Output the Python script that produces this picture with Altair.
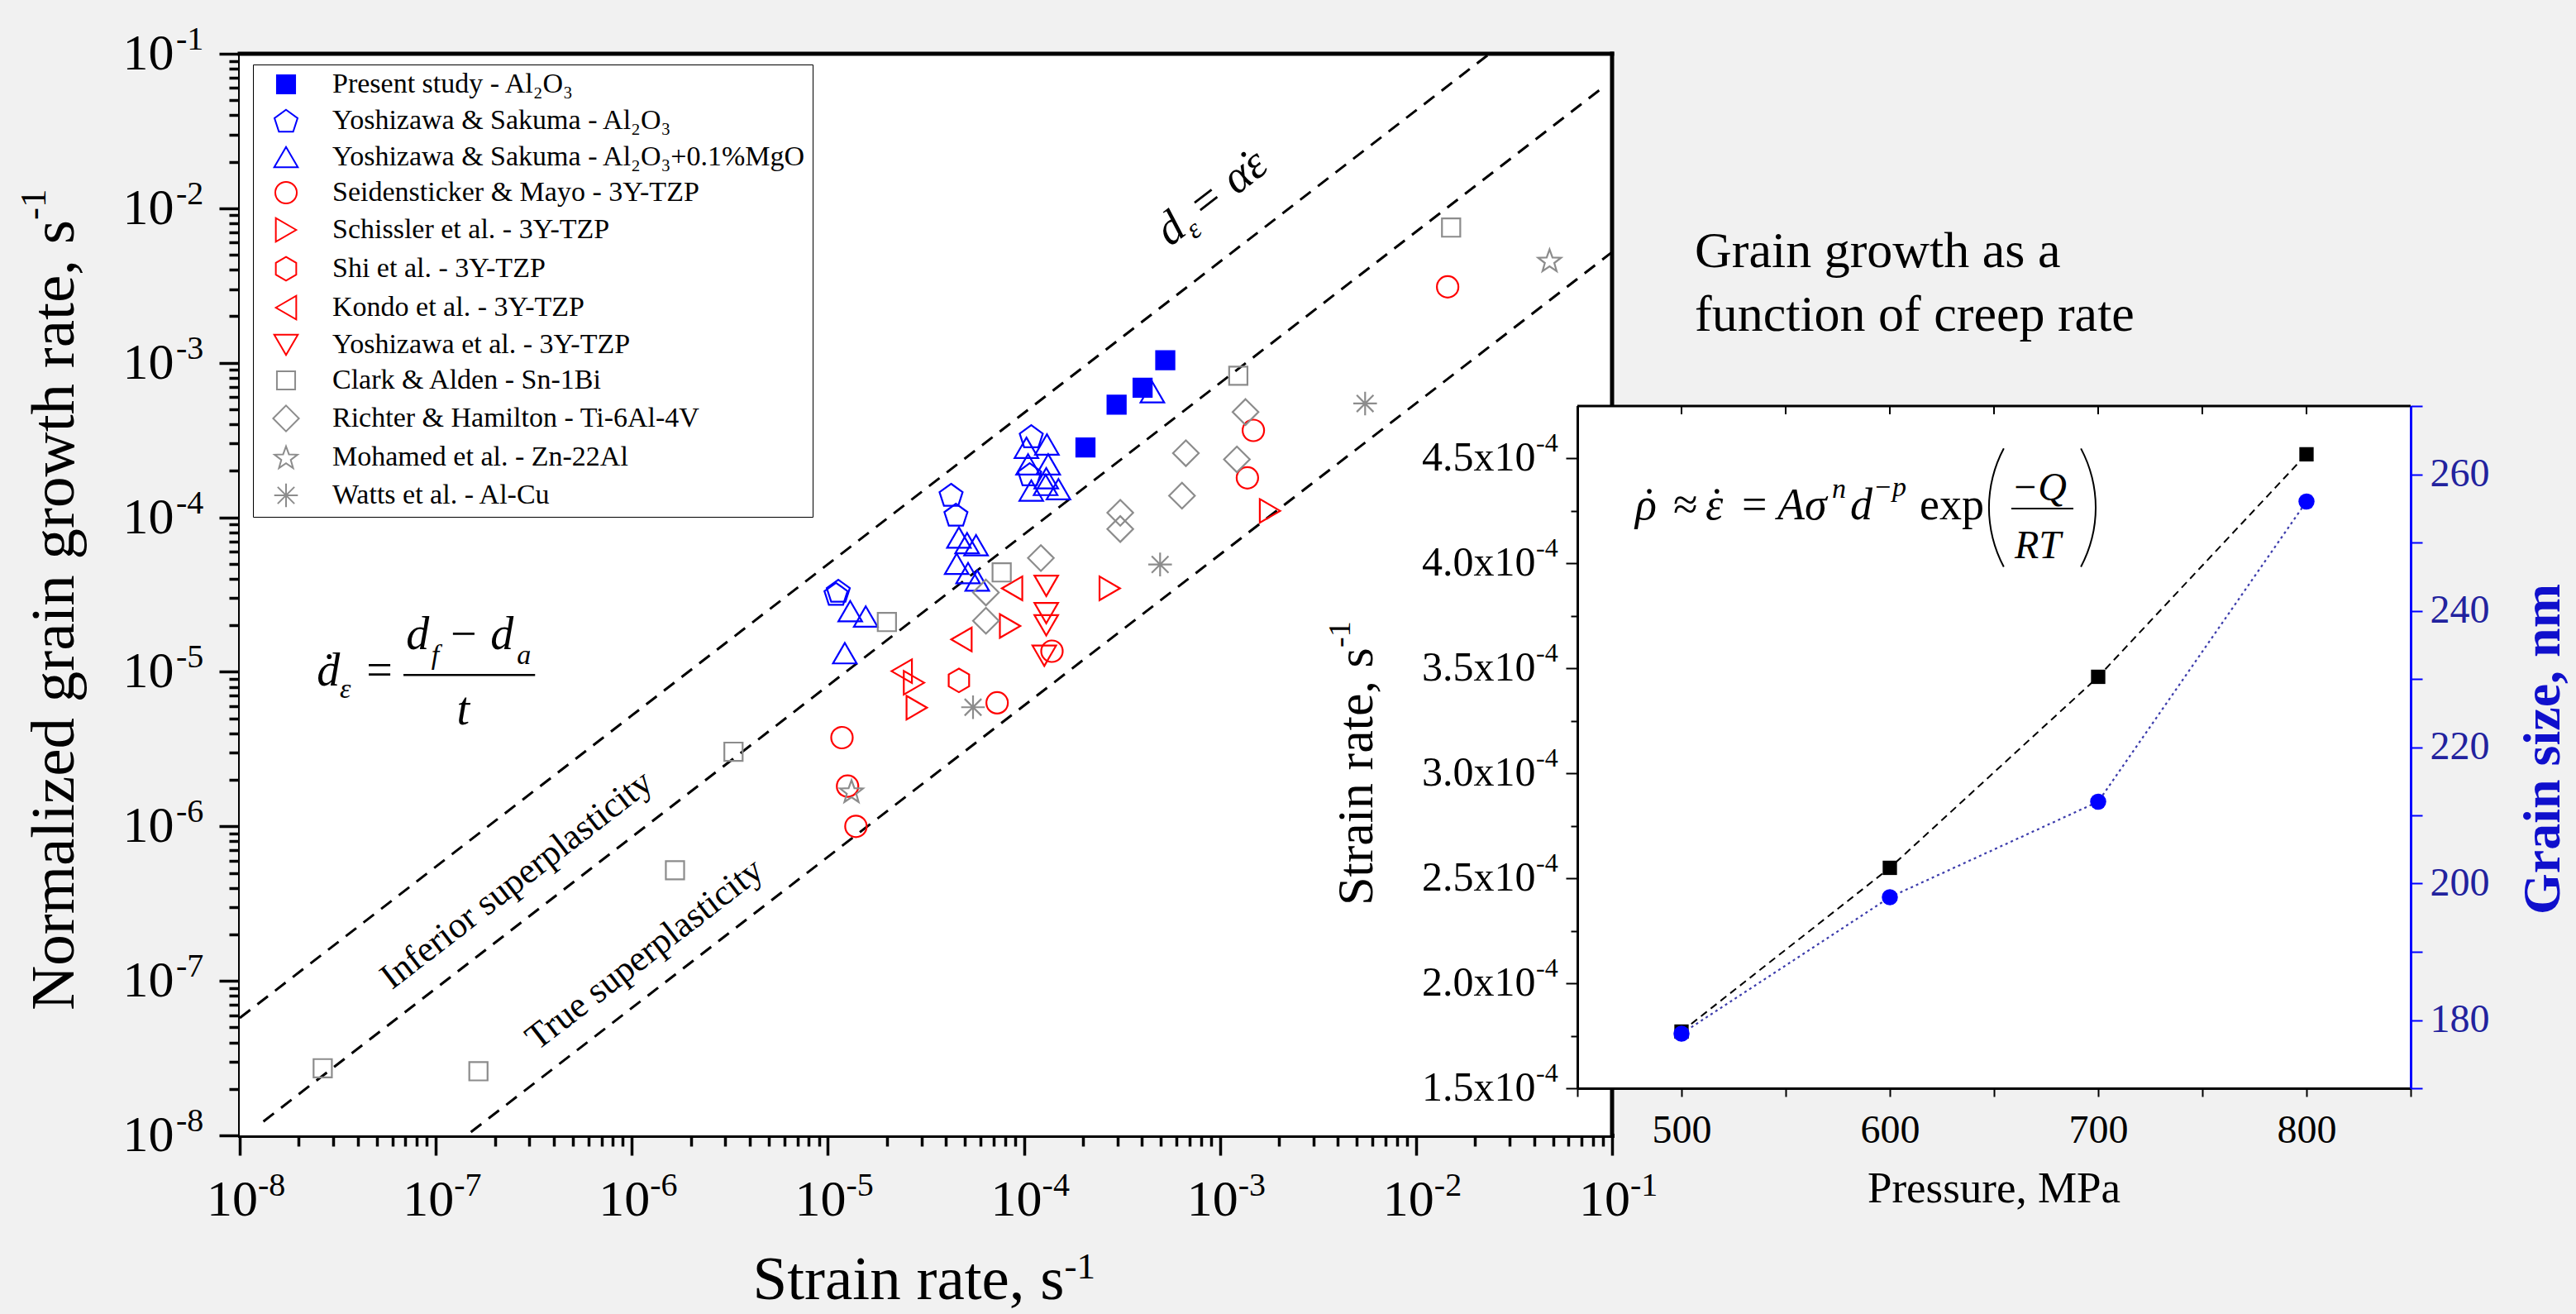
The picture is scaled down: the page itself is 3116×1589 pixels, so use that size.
import math
import altair as alt
import pandas as pd

FONT = "Liberation Serif"
BG = "#f1f1f1"
BLUE = "#0000ff"
RED = "#ff0000"
GRAY = "#8c8c8c"
NAVY = "#22229e"
DOT_BLUE = "#3b3bab"

# ---------------------------------------------------------------------------
# Grain growth rate vs. strain rate (literature compilation)
# ---------------------------------------------------------------------------
series_names = [
    "Present study - Al\u2082O\u2083",
    "Yoshizawa & Sakuma - Al\u2082O\u2083",
    "Yoshizawa & Sakuma - Al\u2082O\u2083+0.1%MgO",
    "Seidensticker & Mayo - 3Y-TZP",
    "Schissler et al. - 3Y-TZP",
    "Shi et al. - 3Y-TZP",
    "Kondo et al. - 3Y-TZP",
    "Yoshizawa et al. - 3Y-TZP",
    "Clark & Alden - Sn-1Bi",
    "Richter & Hamilton - Ti-6Al-4V",
    "Mohamed et al. - Zn-22Al",
    "Watts et al. - Al-Cu",
]

present_rate = [2.06e-4, 2.97e-4, 4.03e-4, 5.26e-4]
present_growth = [2.83e-4, 5.35e-4, 6.90e-4, 1.04e-3]

ys_al_rate = [1.10e-5, 1.13e-5, 4.25e-5, 4.50e-5, 1.09e-4, 1.07e-4]
ys_al_growth = [3.20e-5, 3.35e-5, 1.40e-4, 1.04e-4, 3.35e-4, 1.90e-4]

ys_mgo_rate = [1.30e-5, 1.56e-5, 1.22e-5, 4.66e-5, 5.13e-5, 5.70e-5, 4.54e-5, 5.19e-5,
               5.78e-5, 1.03e-4, 1.31e-4, 1.05e-4, 1.33e-4, 1.30e-4, 1.09e-4, 1.29e-4,
               1.50e-4, 4.52e-4]
ys_mgo_growth = [2.47e-5, 2.28e-5, 1.32e-5, 7.40e-5, 6.80e-5, 6.60e-5, 5.00e-5, 4.35e-5,
                 3.90e-5, 2.82e-4, 2.96e-4, 2.20e-4, 2.20e-4, 1.79e-4, 1.49e-4, 1.62e-4,
                 1.52e-4, 6.45e-4]

seid_rate = [1.18e-5, 1.26e-5, 1.39e-5, 7.30e-5, 1.39e-4, 1.38e-3, 1.48e-3, 1.45e-2]
seid_growth = [3.75e-6, 1.82e-6, 1.00e-6, 6.30e-6, 1.36e-5, 1.80e-4, 3.65e-4, 3.10e-3]

schissler_rate = [2.75e-5, 2.84e-5, 8.50e-5, 2.74e-4, 1.80e-3]
schissler_growth = [8.50e-6, 5.86e-6, 1.98e-5, 3.47e-5, 1.10e-4]

shi_rate = [4.66e-5]
shi_growth = [8.80e-6]

kondo_rate = [2.38e-5, 4.80e-5, 8.70e-5]
kondo_growth = [1.01e-5, 1.62e-5, 3.47e-5]

yoshi_rate = [1.30e-4, 1.30e-4, 1.30e-4, 1.27e-4]
yoshi_growth = [3.60e-5, 2.40e-5, 2.00e-5, 1.27e-5]

clark_rate = [2.65e-8, 1.65e-7, 1.66e-6, 3.30e-6, 2.00e-5, 7.70e-5, 1.24e-3, 1.51e-2]
clark_growth = [2.72e-8, 2.60e-8, 5.20e-7, 3.04e-6, 2.10e-5, 4.40e-5, 8.25e-4, 7.50e-3]

richter_rate = [6.40e-5, 6.40e-5, 1.22e-4, 3.10e-4, 3.10e-4, 6.40e-4, 6.70e-4, 1.22e-3, 1.35e-3]
richter_growth = [3.26e-5, 2.14e-5, 5.45e-5, 1.07e-4, 8.40e-5, 1.38e-4, 2.60e-4, 2.37e-4, 4.80e-4]

mohamed_rate = [1.32e-5, 4.80e-2]
mohamed_growth = [1.69e-6, 4.60e-3]

watts_rate = [5.50e-5, 4.95e-4, 5.50e-3]
watts_growth = [5.90e-6, 4.95e-5, 5.45e-4]

series_rates = [present_rate, ys_al_rate, ys_mgo_rate, seid_rate, schissler_rate, shi_rate,
                kondo_rate, yoshi_rate, clark_rate, richter_rate, mohamed_rate, watts_rate]
series_growth = [present_growth, ys_al_growth, ys_mgo_growth, seid_growth, schissler_growth,
                 shi_growth, kondo_growth, yoshi_growth, clark_growth, richter_growth,
                 mohamed_growth, watts_growth]

# dashed boundary lines (end points)
boundary_id = ["upper", "upper", "middle", "middle", "lower", "lower"]
boundary_rate = [1.0e-8, 2.37e-2, 1.32e-8, 8.9e-2, 1.51e-7, 1.0e-1]
boundary_growth = [5.75e-8, 1.0e-1, 1.23e-8, 6.0e-2, 1.05e-8, 5.2e-3]

# ---------------------------------------------------------------------------
# Inset: strain rate and grain size vs. pressure
# ---------------------------------------------------------------------------
pressure = [500, 600, 700, 800]
strain_rate = [1.77e-4, 2.55e-4, 3.46e-4, 4.52e-4]
grain_size = [178, 198, 212, 256]

inset_strain_ticks = [1.5e-4, 2.0e-4, 2.5e-4, 3.0e-4, 3.5e-4, 4.0e-4, 4.5e-4]
inset_strain_labels = ["1.5x10", "2.0x10", "2.5x10", "3.0x10", "3.5x10", "4.0x10", "4.5x10"]

# ---------------------------------------------------------------------------
# marker shapes (unit-box SVG paths)
# ---------------------------------------------------------------------------
def polygon(pts):
    return "M" + "L".join(f"{x:.3f},{y:.3f}" for x, y in pts) + "Z"


SQUARE = polygon([(-0.85, -0.85), (0.85, -0.85), (0.85, 0.85), (-0.85, 0.85)])
PENTAGON = polygon([(1.13 * math.cos(math.radians(-90 + 72 * k)),
                     1.13 * math.sin(math.radians(-90 + 72 * k)) + 0.11) for k in range(5)])
TRI_UP = "M0,-0.95L1.1,0.95L-1.1,0.95Z"
TRI_DOWN = "M0,0.95L1.1,-0.95L-1.1,-0.95Z"
TRI_RIGHT = "M0.95,0L-0.95,-1.1L-0.95,1.1Z"
TRI_LEFT = "M-0.95,0L0.95,-1.1L0.95,1.1Z"
HEXAGON = "M0,-1.1L0.95,-0.55L0.95,0.55L0,1.1L-0.95,0.55L-0.95,-0.55Z"
DIAMOND = "M0,-1.2L1.2,0L0,1.2L-1.2,0Z"
STAR = polygon([((1.12 if k % 2 == 0 else 0.46) * math.cos(math.radians(-90 + 36 * k)),
                 (1.12 if k % 2 == 0 else 0.46) * math.sin(math.radians(-90 + 36 * k)) + 0.1)
                for k in range(10)])
ASTERISK = "M0,-1.1L0,1.1M-1.1,0L1.1,0M-0.78,-0.78L0.78,0.78M-0.78,0.78L0.78,-0.78"

series_shapes = [SQUARE, PENTAGON, TRI_UP, "circle", TRI_RIGHT, HEXAGON, TRI_LEFT, TRI_DOWN,
                 SQUARE, DIAMOND, STAR, ASTERISK]
series_strokes = [BLUE, BLUE, BLUE, RED, RED, RED, RED, RED, GRAY, GRAY, GRAY, GRAY]
series_fills = [BLUE] + ["transparent"] * 11

rows = []
for name, xs, ys in zip(series_names, series_rates, series_growth):
    for xv, yv in zip(xs, ys):
        rows.append({"series": name, "rate": xv, "growth": yv})
points_df = pd.DataFrame(rows)

boundary_df = pd.DataFrame({"id": boundary_id, "rate": boundary_rate, "growth": boundary_growth})

# ---------------------------------------------------------------------------
# main log-log panel scales and axes
# ---------------------------------------------------------------------------
MX = alt.Scale(type="log", domain=[1e-8, 1e-1], nice=False)
MY = alt.Scale(type="log", domain=[1e-8, 1e-1], nice=False)
log_ticks = [k * 10.0 ** e for e in range(-8, -1) for k in range(1, 10)] + [1e-1]
decade_test = "abs(log(datum.value)/LN10 - round(log(datum.value)/LN10)) < 0.01"

AX_MX = alt.Axis(values=log_ticks, labels=False, title=None, grid=False, orient="bottom",
                 domainColor="black", domainWidth=5, domainCap="square",
                 tickColor="black", tickWidth=3.5,
                 tickSize={"condition": {"test": decade_test, "value": 24}, "value": 13})
AX_MY = alt.Axis(values=log_ticks, labels=False, title=None, grid=False, orient="left",
                 domainColor="black", domainWidth=5, domainCap="square",
                 tickColor="black", tickWidth=3.5,
                 tickSize={"condition": {"test": decade_test, "value": 25}, "value": 13})


def mx(field="rate"):
    return alt.X(f"{field}:Q", scale=MX, axis=AX_MX)


def my(field="growth"):
    return alt.Y(f"{field}:Q", scale=MY, axis=AX_MY)


legend = alt.Legend(title=None, orient="none", legendX=16, legendY=13,
                    fillColor="white", strokeColor="black", padding=7, rowPadding=9,
                    labelFont=FONT, labelFontSize=34, labelColor="black", labelLimit=1000,
                    labelOffset=39, symbolSize=676, symbolStrokeWidth=2, symbolOffset=16)

plot_bg = alt.Chart(pd.DataFrame({"rate": [1e-8], "rate2": [1e-1], "growth": [1e-8], "growth2": [1e-1]})).mark_rect(
    fill="white"
).encode(x=mx(), x2=alt.X2("rate2:Q"), y=my(), y2=alt.Y2("growth2:Q"))

boundaries = alt.Chart(boundary_df).mark_line(
    color="black", strokeWidth=3, strokeDash=[16, 11]
).encode(x=mx(), y=my(), detail="id:N")

points = alt.Chart(points_df).mark_point(size=676, strokeWidth=2.2, opacity=1).encode(
    x=mx(), y=my(),
    shape=alt.Shape("series:N", scale=alt.Scale(domain=series_names, range=series_shapes), legend=legend),
    stroke=alt.Stroke("series:N", scale=alt.Scale(domain=series_names, range=series_strokes), legend=legend),
    fill=alt.Fill("series:N", scale=alt.Scale(domain=series_names, range=series_fills), legend=legend),
)

frame_top = alt.Chart(pd.DataFrame({"rate": [1e-8], "rate2": [1e-1], "growth": [1e-1]})).mark_rule(
    color="black", strokeWidth=5, strokeCap="square"
).encode(x=mx(), x2=alt.X2("rate2:Q"), y=my())
frame_right = alt.Chart(pd.DataFrame({"rate": [1e-1], "growth": [1e-8], "growth2": [1e-1]})).mark_rule(
    color="black", strokeWidth=5, strokeCap="square"
).encode(x=mx(), y=my(), y2=alt.Y2("growth2:Q"))

# formula: d-dot_eps = (d_f - d_a) / t
eq_italic = pd.DataFrame({
    "txt": ["\u1e0b", "\u03b5", "d", "f", "d", "a", "t"],
    "rate": [2.47e-8, 3.24e-8, 7.05e-8, 9.5e-8, 1.9e-7, 2.59e-7, 1.28e-7],
    "growth": [8.11e-6, 6.75e-6, 1.41e-5, 1.13e-5, 1.41e-5, 1.13e-5, 4.56e-6],
    "fs": [56, 34, 56, 34, 56, 34, 56],
})
eq_roman = pd.DataFrame({"txt": ["=", "\u2212"], "rate": [4.43e-8, 1.19e-7],
                         "growth": [8.11e-6, 1.41e-5], "fs": [56, 56]})
eq_it_layer = alt.Chart(eq_italic).mark_text(
    font=FONT, fontStyle="italic", align="left", baseline="alphabetic", color="black"
).encode(x=mx(), y=my(), text="txt:N", size=alt.Size("fs:Q", scale=None))
eq_rm_layer = alt.Chart(eq_roman).mark_text(
    font=FONT, align="left", baseline="alphabetic", color="black"
).encode(x=mx(), y=my(), text="txt:N", size=alt.Size("fs:Q", scale=None))
eq_bar = alt.Chart(pd.DataFrame({"rate": [6.84e-8], "rate2": [3.21e-7], "growth": [9.53e-6]})).mark_rule(
    color="black", strokeWidth=2.5
).encode(x=mx(), x2=alt.X2("rate2:Q"), y=my())

ROT = 322.3
inferior = alt.Chart(pd.DataFrame({"rate": [2.59e-7], "growth": [4.49e-7]})).mark_text(
    text="Inferior superplasticity", font=FONT, fontSize=44, angle=ROT,
    align="center", baseline="middle", color="black"
).encode(x=mx(), y=my())
true_sp = alt.Chart(pd.DataFrame({"rate": [1.164e-6], "growth": [1.48e-7]})).mark_text(
    text="True superplasticity", font=FONT, fontSize=44, angle=ROT,
    align="center", baseline="middle", color="black"
).encode(x=mx(), y=my())

# d_eps = alpha * eps-dot, written along the upper boundary line
de_anchor = pd.DataFrame({"rate": [5.56e-4], "growth": [5.6e-3]})
de_d = alt.Chart(de_anchor).mark_text(
    text="d", font=FONT, fontStyle="italic", fontSize=56, angle=ROT,
    align="left", baseline="alphabetic", color="black"
).encode(x=mx(), y=my())
de_eps = alt.Chart(de_anchor).mark_text(
    text="\u03b5", font=FONT, fontStyle="italic", fontSize=34, angle=ROT, dx=29, dy=11,
    align="left", baseline="alphabetic", color="black"
).encode(x=mx(), y=my())
de_rest = alt.Chart(de_anchor).mark_text(
    text="= \u03b1\u03b5", font=FONT, fontStyle="italic", fontSize=56, angle=ROT, dx=50,
    align="left", baseline="alphabetic", color="black"
).encode(x=mx(), y=my())
de_dot = alt.Chart(de_anchor).mark_text(
    text="\u02d9", font=FONT, fontSize=56, angle=ROT, dx=139,
    align="center", baseline="alphabetic", color="black"
).encode(x=mx(), y=my())

# decade tick labels 10^n
exps = [-8, -7, -6, -5, -4, -3, -2, -1]
decade_df = pd.DataFrame({"rate": [10.0 ** e for e in exps],
                          "growth": [10.0 ** e for e in exps],
                          "sup": [str(e) for e in exps]})
xlab_base = alt.Chart(decade_df).mark_text(
    text="10", font=FONT, fontSize=62, align="right", baseline="alphabetic", dx=22, color="black"
).encode(x=mx(), y=alt.value(1405))
xlab_sup = alt.Chart(decade_df).mark_text(
    font=FONT, fontSize=40, align="left", baseline="alphabetic", dx=22, color="black"
).encode(x=mx(), y=alt.value(1381), text="sup:N")
ylab_base = alt.Chart(decade_df).mark_text(
    text="10", font=FONT, fontSize=62, align="right", baseline="middle", color="black"
).encode(x=alt.value(-79.5), y=my())
ylab_sup = alt.Chart(decade_df).mark_text(
    font=FONT, fontSize=40, align="left", baseline="alphabetic", dy=-5, color="black"
).encode(x=alt.value(-77), y=my(), text="sup:N")

one = pd.DataFrame({"k": [0]})
xtitle = alt.Chart(one).mark_text(
    text="Strain rate, s", font=FONT, fontSize=75, align="left", baseline="alphabetic", color="black"
).encode(x=alt.value(620.5), y=alt.value(1506))
xtitle_sup = alt.Chart(one).mark_text(
    text="-1", font=FONT, fontSize=45, align="left", baseline="alphabetic", color="black"
).encode(x=alt.value(997.5), y=alt.value(1481))
ytitle = alt.Chart(one).mark_text(
    text="Normalized grain growth rate, s", font=FONT, fontSize=75, angle=270,
    align="left", baseline="alphabetic", color="black"
).encode(x=alt.value(-201), y=alt.value(1157))
ytitle_sup = alt.Chart(one).mark_text(
    text="-1", font=FONT, fontSize=45, angle=270, align="left", baseline="alphabetic", color="black"
).encode(x=alt.value(-235), y=alt.value(201))
caption = alt.Chart(one).mark_text(
    text="Grain growth as a\nfunction of creep rate", lineBreak="\n", lineHeight=77,
    font=FONT, fontSize=62, align="left", baseline="alphabetic", color="black"
).encode(x=alt.value(1760), y=alt.value(258))

main = alt.layer(
    plot_bg, boundaries, points, frame_top, frame_right,
    eq_it_layer, eq_rm_layer, eq_bar, inferior, true_sp, de_d, de_eps, de_rest, de_dot,
    xlab_base, xlab_sup, ylab_base, ylab_sup, xtitle, xtitle_sup, ytitle, ytitle_sup, caption,
)

# ---------------------------------------------------------------------------
# inset panel (drawn over the lower-right corner of the main panel)
# ---------------------------------------------------------------------------
IX = alt.Scale(domain=[450, 850], range=[1618, 2626], nice=False, zero=False)
IS = alt.Scale(domain=[1.5e-4, 4.75e-4], range=[1251, 426], nice=False, zero=False)
IG = alt.Scale(domain=[170, 270], range=[1251, 426], nice=False, zero=False)

pressure_ticks = [450, 500, 550, 600, 650, 700, 750, 800, 850]
strain_tick_vals = [1.5e-4 + 0.25e-4 * k for k in range(14)]
grain_tick_vals = list(range(170, 271, 10))

AX_IX = alt.Axis(orient="bottom", offset=-57, values=pressure_ticks, title=None, grid=False,
                 labelExpr="(datum.value % 100 == 0 && datum.value >= 500 && datum.value <= 800) ? datum.label : ''",
                 labelFont=FONT, labelFontSize=48, labelColor="black", labelPadding=17,
                 labelFlush=False, labelOverlap=False,
                 tickSize=10, tickWidth=2, tickColor="black",
                 domainColor="black", domainWidth=3, zindex=1)
AX_IS = alt.Axis(orient="left", offset=-1618, values=strain_tick_vals, labels=False, title=None,
                 grid=False, tickWidth=2, tickColor="black",
                 tickSize={"condition": {"test": "abs(datum.value*20000 - round(datum.value*20000)) < 0.01",
                                         "value": 14}, "value": 8},
                 domainColor="black", domainWidth=3, zindex=1)
AX_IG = alt.Axis(orient="right", offset=966, values=grain_tick_vals, title=None, grid=False,
                 labelExpr="(datum.value >= 180 && datum.value <= 260 && datum.value % 20 == 0) ? datum.label : ''",
                 labelFont=FONT, labelFontSize=48, labelColor=NAVY, labelPadding=9,
                 labelOverlap=False, labelFlush=False,
                 tickSize=14, tickWidth=2, tickColor=BLUE,
                 domainColor=BLUE, domainWidth=3, zindex=1)


def ix(field="p"):
    return alt.X(f"{field}:Q", scale=IX, axis=AX_IX)


def iy(field="s"):
    return alt.Y(f"{field}:Q", scale=IS, axis=AX_IS)


def ig(field="g"):
    return alt.Y(f"{field}:Q", scale=IG, axis=AX_IG)


inset_bg = alt.Chart(pd.DataFrame({"p": [450.0], "p2": [850.0], "s": [1.5e-4], "s2": [4.75e-4]})).mark_rect(
    fill="white"
).encode(x=ix(), x2=alt.X2("p2:Q"), y=iy(), y2=alt.Y2("s2:Q"))
inset_top = alt.Chart(pd.DataFrame({"p": [450.0], "p2": [850.0], "s": [4.75e-4]})).mark_rule(
    color="black", strokeWidth=3
).encode(x=ix(), x2=alt.X2("p2:Q"), y=iy())
inset_top_ticks = alt.Chart(pd.DataFrame({"p": pressure_ticks, "s": [4.75e-4] * len(pressure_ticks)})).mark_tick(
    orient="vertical", size=10, thickness=2, color="black", yOffset=5, opacity=1
).encode(x=ix(), y=iy())

strain_df = pd.DataFrame({"p": pressure, "s": strain_rate})
grain_df = pd.DataFrame({"p": pressure, "g": grain_size})

strain_line = alt.Chart(strain_df).mark_line(color="black", strokeWidth=2, strokeDash=[9, 6]).encode(
    x=ix(), y=iy())
strain_pts = alt.Chart(strain_df).mark_point(
    shape="square", filled=True, size=300, color="black", opacity=1
).encode(x=ix(), y=iy())

ylab_df = pd.DataFrame({"s": inset_strain_ticks, "base": inset_strain_labels})
inset_ylab = alt.Chart(ylab_df).mark_text(
    font=FONT, fontSize=50, align="right", baseline="middle", color="black"
).encode(x=alt.value(1567.6), y=iy(), text="base:N")
inset_ylab_sup = alt.Chart(ylab_df).mark_text(
    text="-4", font=FONT, fontSize=32, align="left", baseline="alphabetic", dy=-8, color="black"
).encode(x=alt.value(1568), y=iy())

# creep equation
creep_italic = pd.DataFrame({
    "txt": ["\u03c1", "\u03b5", "A\u03c3", "n", "d", "\u2212p", "\u2212Q", "RT"],
    "p": [477.8, 511.5, 546.0, 572.2, 581.0, 592.1, 658.3, 659.9],
    "s": [4.21e-4, 4.21e-4, 4.21e-4, 4.313e-4, 4.21e-4, 4.321e-4, 4.301e-4, 4.025e-4],
    "fs": [54, 54, 54, 34, 54, 34, 48, 48],
})
creep_roman = pd.DataFrame({
    "txt": ["\u2248", "=", "exp"],
    "p": [496.0, 529.0, 614.3],
    "s": [4.21e-4, 4.21e-4, 4.21e-4],
    "fs": [54, 54, 54],
})
creep_dots = pd.DataFrame({"p": [484.5, 517.0], "s": [4.21e-4, 4.21e-4]})
creep_it_layer = alt.Chart(creep_italic).mark_text(
    font=FONT, fontStyle="italic", align="left", baseline="alphabetic", color="black"
).encode(x=ix(), y=iy(), text="txt:N", size=alt.Size("fs:Q", scale=None))
creep_rm_layer = alt.Chart(creep_roman).mark_text(
    font=FONT, align="left", baseline="alphabetic", color="black"
).encode(x=ix(), y=iy(), text="txt:N", size=alt.Size("fs:Q", scale=None))
creep_dot_layer = alt.Chart(creep_dots).mark_text(
    text="\u02d9", font=FONT, fontSize=54, align="center", baseline="alphabetic", color="black"
).encode(x=ix(), y=iy())
creep_bar = alt.Chart(pd.DataFrame({"p": [658.3], "p2": [688.1], "s": [4.262e-4]})).mark_rule(
    color="black", strokeWidth=2
).encode(x=ix(), x2=alt.X2("p2:Q"), y=iy())
paren_left = alt.Chart(pd.DataFrame({"p": [707.9], "s": [4.266e-4]})).mark_arc(
    radius=153, radius2=151, theta=4.222, theta2=5.203, color="black"
).encode(x=ix(), y=iy())
paren_right = alt.Chart(pd.DataFrame({"p": [638.5], "s": [4.266e-4]})).mark_arc(
    radius=153, radius2=151, theta=1.081, theta2=2.061, color="black"
).encode(x=ix(), y=iy())

inset_ytitle = alt.Chart(one).mark_text(
    text="Strain rate, s", font=FONT, fontSize=62, angle=270, align="left", baseline="alphabetic",
    color="black"
).encode(x=alt.value(1370), y=alt.value(1030))
inset_ytitle_sup = alt.Chart(one).mark_text(
    text="-1", font=FONT, fontSize=38, angle=270, align="left", baseline="alphabetic", color="black"
).encode(x=alt.value(1343), y=alt.value(718))
inset_xtitle = alt.Chart(one).mark_text(
    text="Pressure, MPa", font=FONT, fontSize=53, align="center", baseline="alphabetic", color="black"
).encode(x=alt.value(2122), y=alt.value(1389))
inset_gtitle = alt.Chart(one).mark_text(
    text="Grain size, nm", font=FONT, fontSize=64, fontWeight="bold", angle=270,
    align="center", baseline="alphabetic", color="#1010cc"
).encode(x=alt.value(2806), y=alt.value(841))

strain_group = alt.layer(
    inset_bg, inset_top, inset_top_ticks, strain_line, strain_pts, inset_ylab, inset_ylab_sup,
    creep_it_layer, creep_rm_layer, creep_dot_layer, creep_bar, paren_left, paren_right,
    inset_ytitle, inset_ytitle_sup, inset_xtitle, inset_gtitle,
)

grain_line = alt.Chart(grain_df).mark_line(color=DOT_BLUE, strokeWidth=2.2, strokeDash=[3, 4]).encode(
    x=ix(), y=ig())
grain_pts = alt.Chart(grain_df).mark_circle(size=380, color=BLUE, opacity=1).encode(x=ix(), y=ig())
grain_group = alt.layer(grain_line, grain_pts)

inset = alt.layer(strain_group, grain_group).resolve_scale(y="independent")

chart = alt.layer(main, inset).resolve_scale(x="independent", y="independent").properties(
    width=1660,
    height=1308,
    background=BG,
    autosize=alt.AutoSizeParams(type="none"),
    padding={"left": 290, "top": 65, "right": 1166, "bottom": 216},
).configure_view(stroke="transparent").configure_legend(strokeWidth=2).configure(font=FONT)

chart.save("out.html", embed_options={"renderer": "svg", "actions": False})
